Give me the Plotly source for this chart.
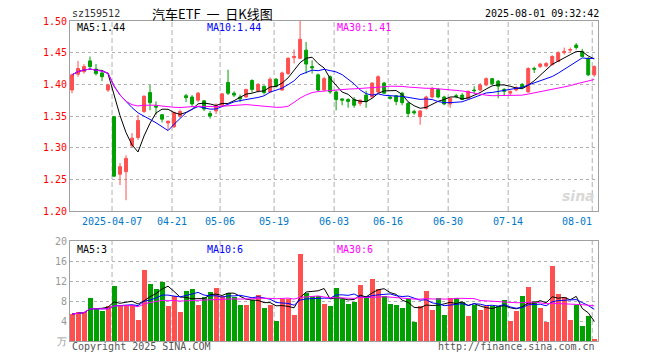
import pandas as pd
import plotly.graph_objects as go

# ---------------- data ----------------
month_days = {
    "03": [26, 27, 28, 31],
    "04": [1, 2, 3, 7, 8, 9, 10, 11, 14, 15, 16, 17, 18, 21, 22, 23, 24, 25, 28, 29, 30],
    "05": [6, 7, 8, 9, 12, 13, 14, 15, 16, 19, 20, 21, 22, 23, 26, 27, 28, 29, 30],
    "06": [3, 4, 5, 6, 9, 10, 11, 12, 13, 16, 17, 18, 19, 20, 23, 24, 25, 26, 27, 30],
    "07": [1, 2, 3, 4, 7, 8, 9, 10, 11, 14, 15, 16, 17, 18, 21, 22, 23, 24, 25, 28, 29, 30, 31],
    "08": [1],
}
dates = [f"2025-{m}-{d:02d}" for m, ds in month_days.items() for d in ds]

opens = [1.391, 1.416, 1.420, 1.437, 1.424, 1.418, 1.391, 1.349, 1.258, 1.262,
         1.303, 1.316, 1.357, 1.387, 1.366, 1.352, 1.339, 1.333, 1.350, 1.382,
         1.380, 1.375, 1.374, 1.354, 1.358, 1.367, 1.403, 1.386, 1.380, 1.380,
         1.406, 1.390, 1.397, 1.388, 1.408, 1.391, 1.417, 1.442, 1.441, 1.454,
         1.428, 1.415, 1.391, 1.412, 1.388, 1.377, 1.376, 1.376, 1.370, 1.383,
         1.380, 1.388, 1.402, 1.380, 1.382, 1.386, 1.370, 1.357, 1.349, 1.362,
         1.380, 1.392, 1.380, 1.369, 1.382, 1.383, 1.378, 1.391, 1.391, 1.399,
         1.409, 1.405, 1.392, 1.386, 1.391, 1.400, 1.388, 1.425, 1.428, 1.429,
         1.431, 1.436, 1.450, 1.454, 1.462, 1.452, 1.441, 1.415]
highs = [1.417, 1.437, 1.432, 1.444, 1.432, 1.420, 1.401, 1.350, 1.276, 1.288,
         1.323, 1.352, 1.383, 1.399, 1.373, 1.353, 1.342, 1.357, 1.360, 1.385,
         1.383, 1.388, 1.375, 1.358, 1.370, 1.386, 1.423, 1.389, 1.384, 1.393,
         1.408, 1.402, 1.398, 1.411, 1.410, 1.420, 1.443, 1.455, 1.500, 1.467,
         1.438, 1.417, 1.412, 1.414, 1.390, 1.378, 1.378, 1.380, 1.376, 1.390,
         1.403, 1.414, 1.404, 1.381, 1.383, 1.388, 1.372, 1.360, 1.359, 1.382,
         1.396, 1.394, 1.382, 1.379, 1.385, 1.386, 1.390, 1.397, 1.402, 1.411,
         1.410, 1.407, 1.394, 1.390, 1.397, 1.402, 1.427, 1.428, 1.434, 1.435,
         1.446, 1.452, 1.458, 1.458, 1.465, 1.456, 1.443, 1.430]
lows = [1.386, 1.412, 1.417, 1.425, 1.414, 1.405, 1.388, 1.254, 1.241, 1.217,
        1.300, 1.312, 1.355, 1.359, 1.352, 1.340, 1.328, 1.331, 1.347, 1.372,
        1.365, 1.372, 1.358, 1.346, 1.353, 1.365, 1.383, 1.380, 1.372, 1.379,
        1.387, 1.387, 1.384, 1.386, 1.395, 1.390, 1.415, 1.433, 1.440, 1.417,
        1.417, 1.389, 1.389, 1.385, 1.359, 1.367, 1.363, 1.363, 1.366, 1.363,
        1.379, 1.386, 1.385, 1.376, 1.367, 1.367, 1.348, 1.352, 1.336, 1.360,
        1.378, 1.378, 1.367, 1.363, 1.378, 1.375, 1.377, 1.385, 1.389, 1.397,
        1.399, 1.378, 1.382, 1.383, 1.389, 1.393, 1.387, 1.418, 1.426, 1.427,
        1.430, 1.435, 1.447, 1.450, 1.455, 1.443, 1.413, 1.412]
closes = [1.415, 1.425, 1.428, 1.428, 1.417, 1.412, 1.399, 1.255, 1.270, 1.283,
          1.315, 1.343, 1.381, 1.371, 1.364, 1.345, 1.342, 1.355, 1.357, 1.379,
          1.369, 1.386, 1.361, 1.350, 1.367, 1.385, 1.386, 1.383, 1.377, 1.392,
          1.392, 1.400, 1.387, 1.408, 1.397, 1.418, 1.441, 1.444, 1.471, 1.432,
          1.426, 1.391, 1.409, 1.388, 1.376, 1.375, 1.373, 1.367, 1.375, 1.373,
          1.402, 1.412, 1.386, 1.378, 1.373, 1.371, 1.354, 1.355, 1.358, 1.380,
          1.393, 1.380, 1.369, 1.378, 1.381, 1.376, 1.389, 1.390, 1.399, 1.409,
          1.401, 1.397, 1.389, 1.389, 1.395, 1.395, 1.425, 1.424, 1.432, 1.433,
          1.444, 1.450, 1.452, 1.455, 1.458, 1.444, 1.415, 1.428]
# volume, unit: 万 (10k lots)
volumes = [5.4, 5.8, 5.8, 8.7, 6.4, 6.0, 7.0, 11.0, 7.3, 7.3,
           7.2, 4.2, 14.2, 11.4, 10.4, 11.8, 7.0, 9.0, 5.8, 10.0,
           10.4, 7.2, 8.9, 9.8, 10.6, 9.0, 9.6, 8.8, 7.2, 7.2,
           8.2, 9.2, 6.6, 7.2, 4.0, 8.4, 8.4, 5.2, 17.4, 9.6,
           9.0, 9.0, 7.5, 7.0, 10.7, 8.5, 7.4, 7.9, 11.3, 9.0,
           12.5, 10.5, 9.0, 7.4, 7.2, 6.7, 8.4, 3.9, 7.0, 10.0,
           6.2, 8.7, 5.2, 8.6, 8.7, 7.9, 5.0, 7.2, 6.2, 7.0,
           7.0, 7.0, 8.2, 4.0, 6.0, 9.0, 10.8, 8.0, 6.6, 3.8,
           15.0, 9.4, 8.8, 4.2, 7.2, 3.0, 5.0, 0.4]

tick_dates = ["2025-04-07", "2025-04-21", "2025-05-06", "2025-05-19", "2025-06-03",
              "2025-06-16", "2025-06-30", "2025-07-14", "2025-08-01"]
tick_text = ["2025-04-07", "04-21", "05-06", "05-19", "06-03", "06-16", "06-30", "07-14", "08-01"]
price_ticks = [1.20, 1.25, 1.30, 1.35, 1.40, 1.45, 1.50]
vol_ticks = [0, 4, 8, 12, 16, 20]
vol_tick_text = ["万", "4", "8", "12", "16", "20"]

# ---------------- styles ----------------
RED = "#ff5050"
GREEN = "#00a000"
MONO = "DejaVu Sans Mono"
GRID = "#b0b0b0"
FRAME = "#a0a0a0"

idx = list(range(len(dates)))
close_s = pd.Series(closes)
vol_s = pd.Series(volumes)
ma = {n: close_s.rolling(n, min_periods=1).mean() for n in (5, 10, 30)}
vma = {n: vol_s.rolling(n, min_periods=1).mean() for n in (5, 10, 30)}
ma_colors = {5: "#000000", 10: "#0000ff", 30: "#ff00ff"}
bar_colors = [RED if c >= o else GREEN for o, c in zip(opens, closes)]

fig = go.Figure()
fig.add_trace(go.Candlestick(
    x=idx, open=opens, high=highs, low=lows, close=closes,
    increasing=dict(line=dict(color=RED, width=1), fillcolor=RED),
    decreasing=dict(line=dict(color=GREEN, width=1), fillcolor=GREEN),
    whiskerwidth=0, xaxis="x", yaxis="y", hoverinfo="skip", showlegend=False))
for n in (5, 10, 30):
    fig.add_trace(go.Scatter(x=idx, y=ma[n], mode="lines", line=dict(color=ma_colors[n], width=1),
                             xaxis="x", yaxis="y", hoverinfo="skip", showlegend=False))
fig.add_trace(go.Bar(x=[i + 0.08 for i in idx], y=volumes, marker=dict(color=bar_colors, line=dict(width=0)),
                     width=0.83, xaxis="x2", yaxis="y2", hoverinfo="skip", showlegend=False))
for n in (5, 10, 30):
    fig.add_trace(go.Scatter(x=idx, y=vma[n], mode="lines", line=dict(color=ma_colors[n], width=1),
                             xaxis="x2", yaxis="y2", hoverinfo="skip", showlegend=False))

xr = [-0.333, 87.63]
axis_common = dict(showline=True, mirror=True, linecolor=FRAME, linewidth=1, zeroline=False, fixedrange=True)
fig.update_layout(
    width=660, height=360,
    margin=dict(l=70, r=62, t=21, b=19),
    paper_bgcolor="white", plot_bgcolor="white",
    bargap=0,
    xaxis=dict(domain=[0, 1], anchor="y", range=xr, showticklabels=False, showgrid=False,
               ticks="", rangeslider=dict(visible=False), **axis_common),
    xaxis2=dict(domain=[0, 1], anchor="y2", range=xr, showticklabels=False, showgrid=False,
                ticks="", **axis_common),
    yaxis=dict(domain=[0.40625, 1], range=[1.20, 1.50], tickvals=price_ticks,
               ticktext=[f"{v:.2f}" for v in price_ticks],
               tickfont=dict(family=MONO, size=10, color="#ff0000"), ticks="",
               showgrid=True, gridcolor=GRID, griddash="dot", gridwidth=1, **axis_common),
    yaxis2=dict(domain=[0, 0.3125], range=[0, 20], tickvals=vol_ticks, ticktext=vol_tick_text,
                tickfont=dict(family=MONO, size=10, color="#999999"), ticks="",
                showgrid=True, gridcolor=GRID, griddash="dot", gridwidth=1, **axis_common),
)

# vertical dashed gridlines at the labelled dates
for d in tick_dates:
    i = dates.index(d)
    for xref, yr in (("x", "y domain"), ("x2", "y2 domain")):
        fig.add_shape(type="line", xref=xref, yref=yr, x0=i - 0.33, x1=i - 0.33, y0=0, y1=1,
                      line=dict(color=GRID, width=1, dash="5px,3px"), layer="below")

ann = []
# date labels
for k, (d, t) in enumerate(zip(tick_dates, tick_text)):
    i = dates.index(d)
    last = k == len(tick_dates) - 1
    ann.append(dict(x=i - 0.33 + (0.3 if last else 0), y=(341 - 221) / 320, xref="x", yref="paper",
                    text=t, showarrow=False, xanchor="right" if last else "center", yanchor="middle",
                    font=dict(family=MONO, size=10, color="#0078c8")))
# header
ann.append(dict(x=0, y=(341 - 13) / 320, xref="paper", yref="paper", text="sz159512", showarrow=False,
                xanchor="left", yanchor="middle", font=dict(family=MONO, size=10, color="#333333")))
ann.append(dict(x=(150 - 70) / 528, y=(341 - 13) / 320, xref="paper", yref="paper",
                text="汽车ETF&nbsp; 一&nbsp; 日K线图",
                showarrow=False, xanchor="left", yanchor="middle",
                font=dict(family="Noto Sans CJK SC", size=13, color="#000000")))
ann.append(dict(x=(601 - 70) / 528, y=(341 - 13) / 320, xref="paper", yref="paper", text="2025-08-01 09:32:42",
                showarrow=False, xanchor="right", yanchor="middle",
                font=dict(family=MONO, size=10, color="#000000")))
# MA labels
ma_label_x = [75, 205, 335]
price_lbls = ["MA5:1.44", "MA10:1.44", "MA30:1.41"]
vol_lbls = ["MA5:3", "MA10:6", "MA30:6"]
for xpx, pl, vl, n in zip(ma_label_x, price_lbls, vol_lbls, (5, 10, 30)):
    ann.append(dict(x=(xpx - 70) / 528, y=(341 - 27) / 320, xref="paper", yref="paper", text=pl,
                    showarrow=False, xanchor="left", yanchor="middle",
                    font=dict(family=MONO, size=10, color=ma_colors[n])))
    ann.append(dict(x=(xpx - 70) / 528, y=(341 - 249) / 320, xref="paper", yref="paper", text=vl,
                    showarrow=False, xanchor="left", yanchor="middle",
                    font=dict(family=MONO, size=10, color=ma_colors[n])))
# footer
ann.append(dict(x=0, y=(341 - 346) / 320, xref="paper", yref="paper", text="Copyright 2025 SINA.COM",
                showarrow=False, xanchor="left", yanchor="middle",
                font=dict(family=MONO, size=10, color="#555555")))
ann.append(dict(x=(597 - 70) / 528, y=(341 - 346) / 320, xref="paper", yref="paper",
                text="http://finance.sina.com.cn", showarrow=False, xanchor="right", yanchor="middle",
                font=dict(family=MONO, size=10, color="#555555")))
# watermark
ann.append(dict(x=(597 - 70) / 528, y=(341 - 196) / 320, xref="paper", yref="paper", text="<i><b>sina</b></i>",
                showarrow=False, xanchor="right", yanchor="middle",
                font=dict(family="DejaVu Sans", size=14, color="#d8d8d8")))
fig.update_layout(annotations=ann)

fig.write_html("out.html", config={"displayModeBar": False, "staticPlot": True},
               post_script="document.body.style.margin='0px';document.body.style.overflow='hidden';")
